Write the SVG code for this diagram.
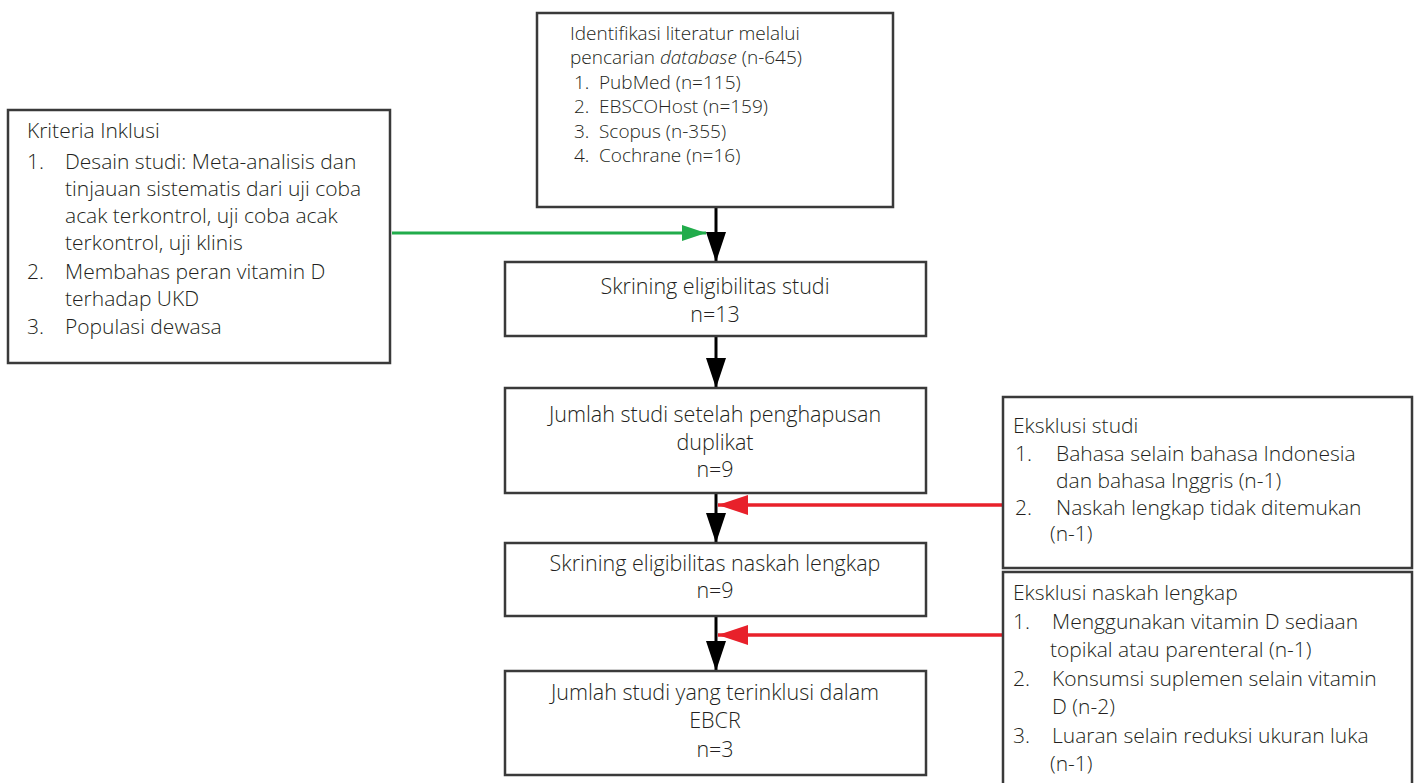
<svg xmlns="http://www.w3.org/2000/svg" width="1419" height="783" viewBox="0 0 1419 783">
<style>
.box{fill:#ffffff;stroke:#3a3a3a;stroke-width:2.5}
.t{font-family:"Open Sans","Liberation Sans",sans-serif;font-size:21px;font-weight:300;fill:#231f20}
.s{font-size:19px}
.c{text-anchor:middle;font-size:21.5px}
.blk{stroke:#000;stroke-width:3;fill:none}
.grn{stroke:#21ac4b;stroke-width:3;fill:none}
.red{stroke:#e8212b;stroke-width:3.5;fill:none}
</style>
<defs>
<marker id="ab" viewBox="0 0 30 20" refX="30" refY="10" markerWidth="30" markerHeight="20" markerUnits="userSpaceOnUse" orient="auto"><path d="M0,0 L30,10 L0,20 z" fill="#000"/></marker>
<marker id="ag" viewBox="0 0 24 16" refX="24" refY="8" markerWidth="24" markerHeight="16" markerUnits="userSpaceOnUse" orient="auto"><path d="M0,0 L24,8 L0,16 z" fill="#21ac4b"/></marker>
<marker id="ar" viewBox="0 0 30 20" refX="30" refY="10" markerWidth="30" markerHeight="20" markerUnits="userSpaceOnUse" orient="auto"><path d="M0,0 L30,10 L0,20 z" fill="#e8212b"/></marker>
</defs>
<rect width="1419" height="783" fill="#ffffff"/>

<g id="connectors">
<line class="blk" x1="716" y1="207" x2="716" y2="262" marker-end="url(#ab)"/>
<line class="grn" x1="392" y1="233" x2="706" y2="233" marker-end="url(#ag)"/>
<line class="blk" x1="716" y1="336" x2="716" y2="388" marker-end="url(#ab)"/>
<line class="blk" x1="716" y1="493" x2="716" y2="543" marker-end="url(#ab)"/>
<line class="red" x1="1002" y1="505" x2="718" y2="505" marker-end="url(#ar)"/>
<line class="blk" x1="716" y1="616" x2="716" y2="671" marker-end="url(#ab)"/>
<line class="red" x1="1002" y1="635" x2="718" y2="635" marker-end="url(#ar)"/>
</g>

<g id="identifikasi">
<rect class="box" x="537" y="13" width="356" height="194"/>
<text class="t s" x="570" y="40">Identifikasi literatur melalui</text>
<text class="t s" x="570" y="64">pencarian <tspan font-style="italic">database</tspan> (n-645)</text>
<text class="t s" x="574" y="89">1.</text><text class="t s" x="599" y="89">PubMed (n=115)</text>
<text class="t s" x="574" y="113">2.</text><text class="t s" x="599" y="113">EBSCOHost (n=159)</text>
<text class="t s" x="574" y="138">3.</text><text class="t s" x="599" y="138">Scopus (n-355)</text>
<text class="t s" x="574" y="162">4.</text><text class="t s" x="599" y="162">Cochrane (n=16)</text>
</g>

<g id="kriteria">
<rect class="box" x="8" y="110" width="382" height="253"/>
<text class="t" x="27" y="138">Kriteria Inklusi</text>
<text class="t" x="27" y="169">1.</text><text class="t" x="65" y="169">Desain studi: Meta-analisis dan</text>
<text class="t" x="65" y="196">tinjauan sistematis dari uji coba</text>
<text class="t" x="65" y="223">acak terkontrol, uji coba acak</text>
<text class="t" x="65" y="250">terkontrol, uji klinis</text>
<text class="t" x="27" y="279">2.</text><text class="t" x="65" y="279">Membahas peran vitamin D</text>
<text class="t" x="65" y="306">terhadap UKD</text>
<text class="t" x="27" y="334">3.</text><text class="t" x="65" y="334">Populasi dewasa</text>
</g>

<g id="skrining">
<rect class="box" x="505" y="262" width="421" height="74"/>
<text class="t c" x="715" y="294">Skrining eligibilitas studi</text>
<text class="t c" x="715" y="322">n=13</text>
</g>

<g id="duplikat">
<rect class="box" x="505" y="388" width="421" height="105"/>
<text class="t c" x="715" y="422">Jumlah studi setelah penghapusan</text>
<text class="t c" x="715" y="450">duplikat</text>
<text class="t c" x="715" y="477">n=9</text>
</g>

<g id="naskah">
<rect class="box" x="505" y="543" width="421" height="73"/>
<text class="t c" x="715" y="571">Skrining eligibilitas naskah lengkap</text>
<text class="t c" x="715" y="598">n=9</text>
</g>

<g id="inklusi">
<rect class="box" x="505" y="671" width="421" height="104"/>
<text class="t c" x="715" y="700">Jumlah studi yang terinklusi dalam</text>
<text class="t c" x="715" y="728">EBCR</text>
<text class="t c" x="715" y="757">n=3</text>
</g>

<g id="eksklusi-studi">
<rect class="box" x="1003" y="397" width="409" height="171"/>
<text class="t" x="1013" y="433">Eksklusi studi</text>
<text class="t" x="1015" y="461">1.</text><text class="t" x="1056" y="461">Bahasa selain bahasa Indonesia</text>
<text class="t" x="1056" y="488">dan bahasa Inggris (n-1)</text>
<text class="t" x="1015" y="515">2.</text><text class="t" x="1056" y="515">Naskah lengkap tidak ditemukan</text>
<text class="t" x="1050" y="541">(n-1)</text>
</g>

<g id="eksklusi-naskah">
<rect class="box" x="1003" y="572" width="409" height="230"/>
<text class="t" x="1013" y="600">Eksklusi naskah lengkap</text>
<text class="t" x="1013" y="629">1.</text><text class="t" x="1052" y="629">Menggunakan vitamin D sediaan</text>
<text class="t" x="1050" y="657">topikal atau parenteral (n-1)</text>
<text class="t" x="1013" y="686">2.</text><text class="t" x="1052" y="686">Konsumsi suplemen selain vitamin</text>
<text class="t" x="1052" y="714">D (n-2)</text>
<text class="t" x="1013" y="743">3.</text><text class="t" x="1052" y="743">Luaran selain reduksi ukuran luka</text>
<text class="t" x="1050" y="771">(n-1)</text>
</g>
</svg>
